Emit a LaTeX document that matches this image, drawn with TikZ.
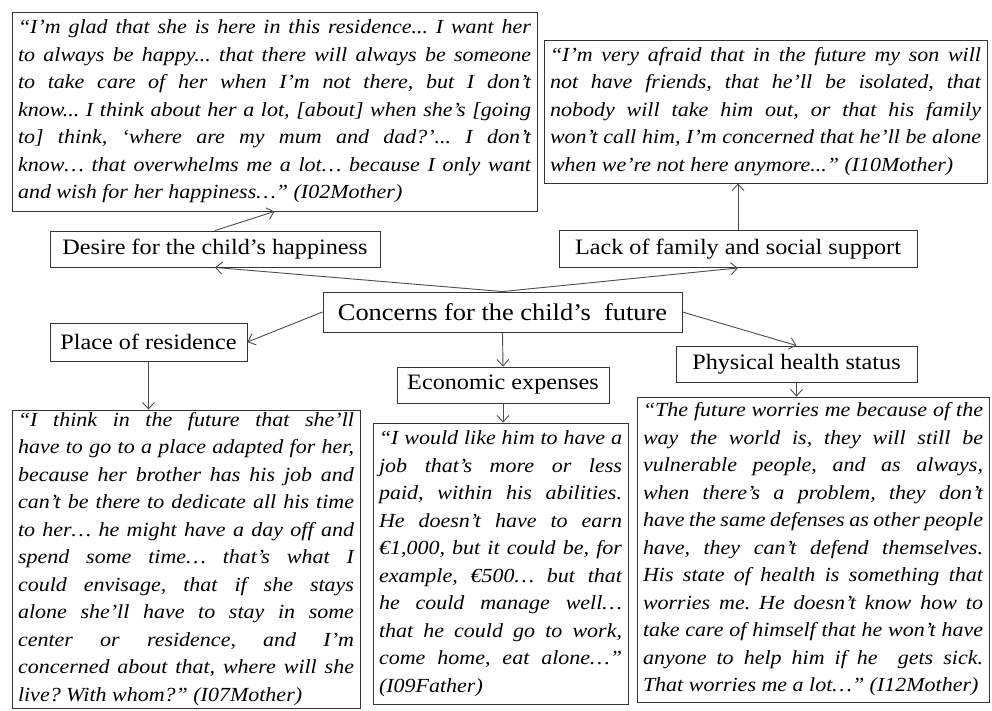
\documentclass[tikz,border=0pt]{standalone}
\usepackage{fontspec}
\setmainfont{Liberation Serif}[FakeStretch=1.1]
\usetikzlibrary{arrows.meta}
\hbadness=10000 \hfuzz=30pt \vbadness=10000
\frenchspacing
\tikzset{
  box/.style={draw=black!80, line width=0.9pt, fill=white},
  lbl/.style={box, inner sep=0pt, font=\fontsize{22}{26}\selectfont},
  quote/.style={box, inner xsep=6pt, inner ysep=0pt, align=justify,
                font=\fontsize{20}{27.5}\selectfont\itshape},
  arr/.style={draw=black!70, line width=0.9pt, -{Straight Barb[length=6.5pt,width=12pt]}},
}
\begin{document}
\begin{tikzpicture}[x=1pt,y=-1pt]
\fill[white] (0,0) rectangle (992,711);
\useasboundingbox (0,0) rectangle (992,711);

% quotes
\node[quote, text width=513pt, minimum width=525pt, minimum height=199pt] (q1) at (274.5,111.5)
{\frenchspacing “I’m glad that she is here in this residence... I want her\linebreak
to always be happy... that there will always be someone\linebreak
to take care of her when I’m not there, but I don’t\linebreak
know... I think about her a lot, [about] when she’s [going\linebreak
to] think, ‘where are my mum and dad?’... I don’t\linebreak
know… that overwhelms me a lot… because I only want\linebreak
and wish for her happiness…” (I02Mother)};

\node[quote, text width=431pt, minimum width=443pt, minimum height=143pt] (q2) at (765.5,111.5)
{\frenchspacing “I’m very afraid that in the future my son will\linebreak
not have friends, that he’ll be isolated, that\linebreak
nobody will take him out, or that his family\linebreak
won’t call him, I’m concerned that he’ll be alone\linebreak
when we’re not here anymore...” (I10Mother)};

\node[quote, text width=336pt, minimum width=348pt, minimum height=298pt] (q3) at (186,559)
{\frenchspacing “I think in the future that she’ll\linebreak
have to go to a place adapted for her,\linebreak
because her brother has his job and\linebreak
can’t be there to dedicate all his time\linebreak
to her… he might have a day off and\linebreak
spend some time… that’s what I\linebreak
could envisage, that if she stays\linebreak
alone she’ll have to stay in some\linebreak
center or residence, and I’m\linebreak
concerned about that, where will she\linebreak
live? With whom?” (I07Mother)};

\node[quote, text width=243pt, minimum width=255pt, minimum height=281pt] (q4) at (500.5,563.5)
{\frenchspacing “I would like him to have a\linebreak
job that’s more or less\linebreak
paid, within his abilities.\linebreak
He doesn’t have to earn\linebreak
€1,000, but it could be, for\linebreak
example, €500… but that\linebreak
he could manage well…\linebreak
that he could go to work,\linebreak
come home, eat alone…”\linebreak
(I09Father)};

\node[quote, text width=340pt, minimum width=352pt, minimum height=305pt] (q5) at (813,549.5)
{\frenchspacing “The future worries me because of the\linebreak
way the world is, they will still be\linebreak
vulnerable people, and as always,\linebreak
when there’s a problem, they don’t\linebreak
have the same defenses as other people\linebreak
have, they can’t defend themselves.\linebreak
His state of health is something that\linebreak
worries me. He doesn’t know how to\linebreak
take care of himself that he won’t have\linebreak
anyone to help him if he\ \ gets sick.\linebreak
That worries me a lot…” (I12Mother)};

% labels
\node[lbl, minimum width=330pt, minimum height=36pt] (des) at (215,249) {Desire for the child’s happiness};
\node[lbl, minimum width=358pt, minimum height=37pt] (lack) at (738,249) {Lack of family and social support};
\node[lbl, minimum width=359pt, minimum height=40pt, font=\fontsize{24}{28}\selectfont] (cen) at (502.5,312) {Concerns for the child’s\ \ future};
\node[lbl, minimum width=197pt, minimum height=38pt] (place) at (148.5,342) {Place of residence};
\node[lbl, minimum width=212pt, minimum height=36pt] (econ) at (503,385) {Economic expenses};
\node[lbl, minimum width=241pt, minimum height=36pt] (phys) at (796.5,364) {Physical health status};

% connectors
\draw[arr] (cen.north) -- (des.south);
\draw[arr] (cen.north) -- (lack.south);
\draw[arr] (des.north) -- (q1.south);
\draw[arr] (lack.north) -- (lack.north |- q2.south);
\draw[arr] (cen.west) -- (place.east);
\draw[arr] (cen.east) -- (phys.north);
\draw[arr] (cen.south) -- (econ.north);
\draw[arr] (place.south) -- (place.south |- q3.north);
\draw[arr] (econ.south) -- (econ.south |- q4.north);
\draw[arr] (phys.south) -- (phys.south |- q5.north);
\end{tikzpicture}
\end{document}
